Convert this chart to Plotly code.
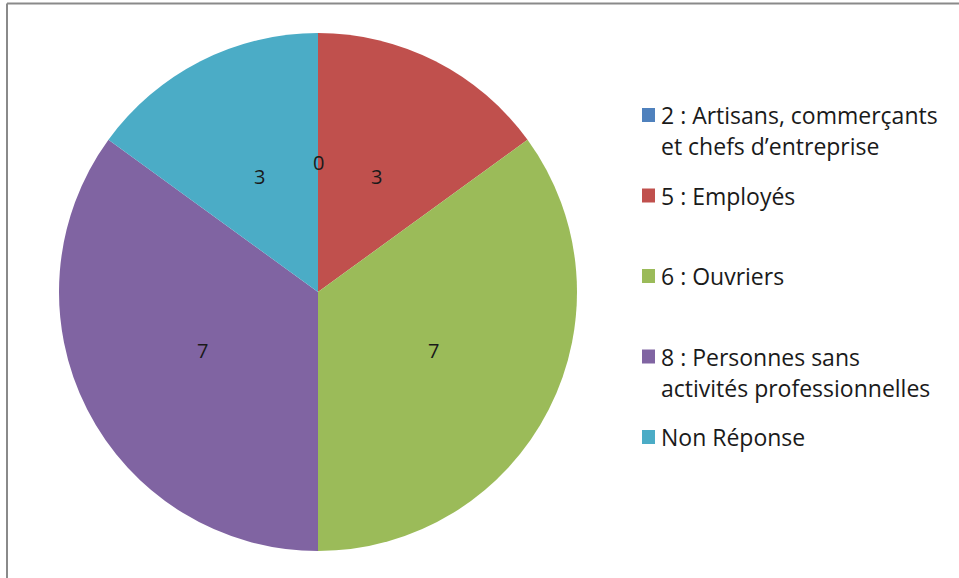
import math
import plotly.graph_objects as go

# Data
categories = ["2 : Artisans, commerçants et chefs d’entreprise", "5 : Employés", "6 : Ouvriers",
              "8 : Personnes sans activités professionnelles", "Non Réponse"]
legend_lines = [["2 : Artisans, commerçants", "et chefs d’entreprise"], ["5 : Employés"], ["6 : Ouvriers"],
                ["8 : Personnes sans", "activités professionnelles"], ["Non Réponse"]]
values = [0, 3, 7, 7, 3]
colors = ["#4F81BD", "#C0504D", "#9BBB59", "#8064A2", "#4BACC6"]

W, H = 959, 578
FONT = "Open Sans"

def px(x):
    return x / W

def py(y):
    return 1 - y / H

cx, cy, R = 318, 292, 259

fig = go.Figure(go.Pie(
    labels=categories, values=values, sort=False, direction="clockwise", rotation=0,
    marker=dict(colors=colors, line=dict(width=0)),
    textinfo="none", hoverinfo="label+value", showlegend=False,
    domain=dict(x=[px(cx - R), px(cx + R)], y=[py(cy + R), py(cy - R)]),
))

annotations = []
total = sum(values)
cum = 0
for v in values:
    mid = (cum + v / 2) / total * 2 * math.pi
    cum += v
    r = 0.5 * R
    annotations.append(dict(x=px(cx + r * math.sin(mid)), y=py(cy - r * math.cos(mid)),
                            xref="paper", yref="paper", text=str(v), showarrow=False,
                            font=dict(family=FONT, size=20, color="#1a1a1a"),
                            xanchor="center", yanchor="middle"))

shapes = []
for i, (lines, col) in enumerate(zip(legend_lines, colors)):
    yc = 115 + 80.5 * i
    shapes.append(dict(type="rect", xref="paper", yref="paper",
                       x0=px(642), x1=px(655), y0=py(yc - 7), y1=py(yc + 7),
                       fillcolor=col, line=dict(width=0)))
    for j, line in enumerate(lines):
        annotations.append(dict(x=px(659), y=py(yc + 31 * j), xref="paper", yref="paper",
                                text=line, showarrow=False, xanchor="left", yanchor="middle",
                                font=dict(family=FONT, size=23, color="#1a1a1a")))

# Chart border (top and left visible)
shapes.append(dict(type="line", xref="paper", yref="paper", x0=px(7), x1=px(W + 5), y0=py(3.5), y1=py(3.5),
                   line=dict(color="#8a8a8a", width=2)))
shapes.append(dict(type="line", xref="paper", yref="paper", x0=px(7), x1=px(7), y0=py(3.5), y1=py(H + 5),
                   line=dict(color="#8a8a8a", width=2)))

fig.update_layout(width=W, height=H, margin=dict(l=0, r=0, t=0, b=0),
                  paper_bgcolor="white", plot_bgcolor="white",
                  annotations=annotations, shapes=shapes)

fig.write_html("out.html", config={"displayModeBar": False},
               post_script="document.body.style.margin='0';document.body.style.overflow='hidden';")
